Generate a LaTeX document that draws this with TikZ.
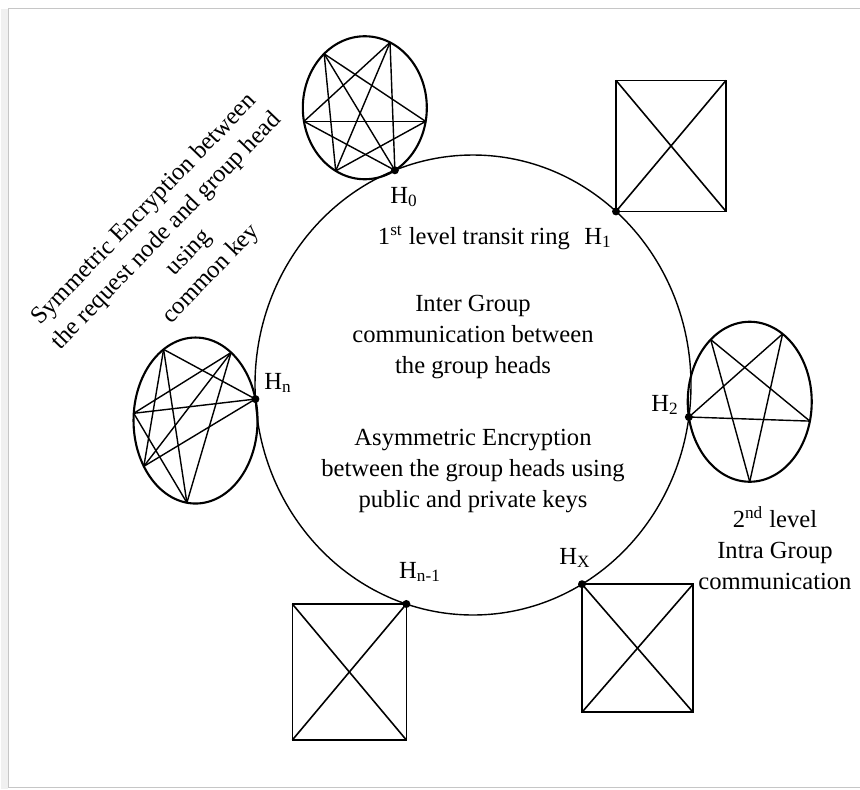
\documentclass[tikz,border=0pt]{standalone}
\usepackage{fontspec}
\setmainfont{Liberation Serif}
\usetikzlibrary{calc}
\tikzset{
  ringline/.style={line width=0.8pt},
  grpline/.style={line width=1.2pt},
  chord/.style={line width=0.8pt},
  boxline/.style={line width=0.9pt},
  headlbl/.style={font=\fontsize{14}{17}\selectfont, inner sep=1pt},
  infotext/.style={align=center, font=\fontsize{14}{17.6}\selectfont, inner sep=0pt},
}

\begin{document}
\begin{tikzpicture}[x=0.02cm, y=-0.02cm]
  \useasboundingbox (0,0) rectangle (860,789);

  % Page frame
  \fill[gray!12] (1,9) rectangle (8,789);
  \draw[gray!45, line width=0.5pt] (8,8) rectangle (880,787);

  % 1st level transit ring
  \draw[ringline] (473,385) ellipse [x radius=218, y radius=230];
  \coordinate (h0)  at ({473+218*cos(111)},{385-230*sin(111)});
  \coordinate (h1)  at ({473+218*cos(49)},{385-230*sin(49)});
  \coordinate (h2)  at ({473+218*cos(-8)},{385-230*sin(-8)});
  \coordinate (hx)  at ({473+218*cos(-60)},{385-230*sin(-60)});
  \coordinate (hn1) at ({473+218*cos(-107.8)},{385-230*sin(-107.8)});
  \coordinate (hn)  at ({473+218*cos(183.5)},{385-230*sin(183.5)});

  % Group at H0 (six members)
  \coordinate (c0) at ($(h0)+({-62*cos(299)},{71.5*sin(299)})$);
  \draw[grpline] (c0) ellipse [x radius=62, y radius=71.5];
  \foreach \a [count=\i] in {299,349,66,131,191,242}
    \coordinate (a\i) at ($(c0)+({62*cos(\a)},{-71.5*sin(\a)})$);
  \foreach \i/\j in {1/3,2/4,3/5,4/6,5/1,6/2,1/4,2/5,3/6}
    \draw[chord] (a\i) -- (a\j);

  % Group at H1
  \draw[boxline] (h1) rectangle ++(110,-131);
  \draw[boxline] (h1) -- ++(110,-131);
  \draw[boxline] ($(h1)+(0,-131)$) -- ++(110,131);

  % Group at H2 (five members)
  \coordinate (c2) at ($(h2)+({-62*cos(191)},{80*sin(191)})$);
  \draw[grpline] (c2) ellipse [x radius=62, y radius=80];
  \foreach \a [count=\i] in {191,129,58,-14,-90}
    \coordinate (b\i) at ($(c2)+({62*cos(\a)},{-80*sin(\a)})$);
  \foreach \i/\j in {1/3,2/4,3/5,4/1,5/2}
    \draw[chord] (b\i) -- (b\j);

  % Group at Hx
  \draw[boxline] (hx) rectangle ++(111,128);
  \draw[boxline] (hx) -- ++(111,128);
  \draw[boxline] ($(hx)+(0,128)$) -- ++(111,-128);

  % Group at Hn-1
  \draw[boxline] (hn1) rectangle ++(-114,136);
  \draw[boxline] (hn1) -- ++(-114,136);
  \draw[boxline] ($(hn1)+(0,136)$) -- ++(-114,-136);

  % Group at Hn (six members)
  \coordinate (cn) at ($(hn)+({-62*cos(15)},{83*sin(15)})$);
  \draw[grpline] (cn) ellipse [x radius=62, y radius=83];
  \foreach \a [count=\i] in {15,55,121,175,213.5,262}
    \coordinate (n\i) at ($(cn)+({62*cos(\a)},{-83*sin(\a)})$);
  \foreach \i/\j in {1/3,2/4,3/5,4/6,5/1,6/2,1/4,2/5,3/6}
    \draw[chord] (n\i) -- (n\j);

  % Group heads
  \foreach \h in {h0,h1,h2,hx,hn1,hn}
    \fill (\h) circle [radius=4];

  % Head labels
  \node[headlbl] (l0)  at (404,197) {H\textsubscript{0}};
  \node[headlbl] (l1)  at (598,238) {H\textsubscript{1}};
  \node[headlbl] (l2)  at (665,405) {H\textsubscript{2}};
  \node[headlbl] (lx)  at (575,558) {H\textsubscript{X}};
  \node[headlbl] (ln1) at (420,572) {H\textsubscript{n-1}};
  \node[headlbl] (ln)  at (278,383) {H\textsubscript{n}};

  % Texts
  \node[infotext] (ring) at (474,238) {1\textsuperscript{st} level transit ring};
  \node[infotext] (inter) at (473,337)
    {Inter Group\\communication between\\the group heads};
  \node[infotext] (asym) at (473,471)
    {Asymmetric Encryption\\between the group heads using\\public and private keys};
  \node[infotext] (intra) at (775,548)
    {2\textsuperscript{nd} level\\Intra Group\\communication};
  \node[infotext, rotate=46] (sym) at (178,242)
    {Symmetric Encryption between\\the request node and group head\\using\\common key};
\end{tikzpicture}
\end{document}
